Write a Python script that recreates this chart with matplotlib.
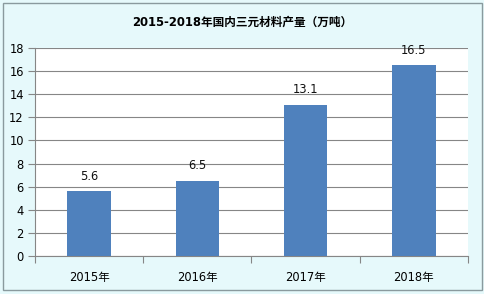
import matplotlib
matplotlib.use("Agg")
import matplotlib.pyplot as plt
from matplotlib.patches import Rectangle

plt.rcParams['font.family'] = ['DejaVu Sans', 'Noto Sans CJK SC']

categories = ["2015年", "2016年", "2017年", "2018年"]
values = [5.6, 6.5, 13.1, 16.5]
yticks = [0, 2, 4, 6, 8, 10, 12, 14, 16, 18]
title = "2015-2018年国内三元材料产量（万吨）"

fig = plt.figure(figsize=(4.85, 2.94), dpi=100)
fig.patch.set_facecolor('#E6F9FB')
fig.patches.append(Rectangle((0.006, 0.012), 0.988, 0.978, transform=fig.transFigure,
                             fill=False, edgecolor='#8A9A9E', linewidth=1.0))

ax = fig.add_axes([0.072, 0.129, 0.893, 0.708])
ax.set_facecolor('white')
x = list(range(len(categories)))
ax.bar(x, values, width=0.4, color='#4F81BD', zorder=3)
for xi, v in zip(x, values):
    ax.text(xi, v + 0.75, f"{v}", ha='center', va='bottom', fontsize=8.3, color='#111111')

ax.set_xlim(-0.5, len(categories) - 0.5)
ax.set_ylim(0, 18)
ax.set_yticks(yticks)
ax.set_yticklabels([str(t) for t in yticks], fontsize=8.3)
ax.set_xticks([i - 0.5 for i in range(len(categories) + 1)], minor=False)
ax.set_xticklabels([])
ax.set_xticks(x, minor=True)
ax.set_xticklabels(categories, minor=True, fontsize=8.3)
ax.tick_params(axis='x', which='minor', length=0, pad=11)
ax.tick_params(axis='x', which='major', length=5, color='#868686')
ax.tick_params(axis='y', length=5, color='#868686', pad=3)
ax.grid(axis='y', color='#868686', linewidth=0.8, zorder=0)
for s in ['top', 'right']:
    ax.spines[s].set_visible(False)
ax.spines['left'].set_color('#868686')
ax.spines['bottom'].set_color('#868686')

fig.text(0.5, 0.925, title, ha='center', va='center', fontsize=8.4, fontweight='bold')

fig.savefig('out.png', dpi=100, facecolor=fig.get_facecolor())
